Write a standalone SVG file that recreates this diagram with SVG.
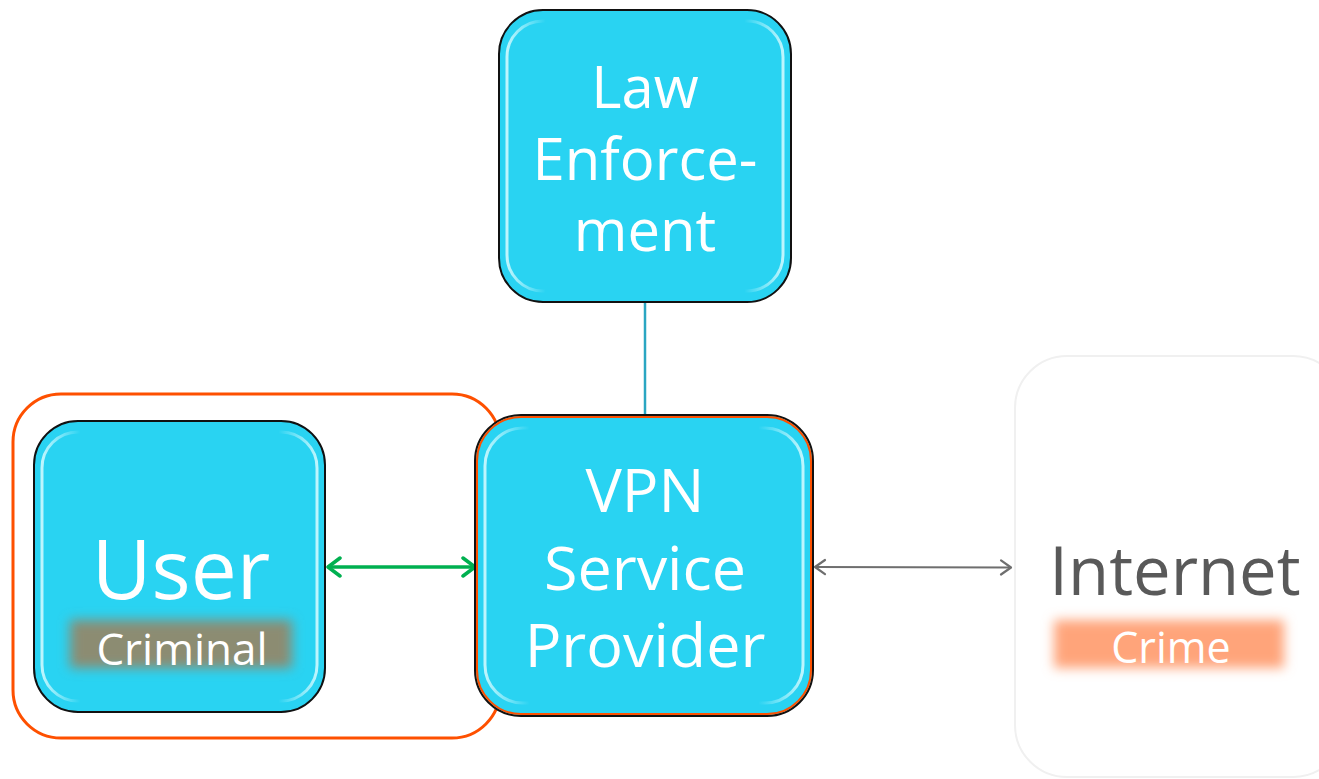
<svg xmlns="http://www.w3.org/2000/svg" width="1319" height="779" viewBox="0 0 1319 779">
  <style>
    .box { fill: #29d3f2; stroke: #111; stroke-width: 2; }
    .gloss { fill: none; stroke: url(#sideGlow); stroke-width: 3; }
    .lbl { font-family: "Open Sans", "Noto Sans", sans-serif; fill: #fff; text-anchor: middle; }
  </style>
  <defs>
    <linearGradient id="sideGlow" x1="0" y1="0" x2="1" y2="0">
      <stop offset="0" stop-color="#d8fbff" stop-opacity="0.85"/>
      <stop offset="0.08" stop-color="#d8fbff" stop-opacity="0.4"/>
      <stop offset="0.14" stop-color="#d8fbff" stop-opacity="0"/>
      <stop offset="0.86" stop-color="#d8fbff" stop-opacity="0"/>
      <stop offset="0.92" stop-color="#d8fbff" stop-opacity="0.4"/>
      <stop offset="1" stop-color="#d8fbff" stop-opacity="0.85"/>
    </linearGradient>
    <filter id="soft" x="-20%" y="-60%" width="140%" height="220%">
      <feGaussianBlur stdDeviation="6"/>
    </filter>
    <marker id="greenHead" viewBox="-16 -12 18 24" markerWidth="18" markerHeight="24" refX="0" refY="0" orient="auto-start-reverse" markerUnits="userSpaceOnUse">
      <path d="M-12,-9 L0,0 L-12,9" fill="none" stroke="#00b050" stroke-width="3.5" stroke-linecap="round" stroke-linejoin="round"/>
    </marker>
    <marker id="greyHead" viewBox="-14 -10 16 20" markerWidth="16" markerHeight="20" refX="0" refY="0" orient="auto-start-reverse" markerUnits="userSpaceOnUse">
      <path d="M-10,-7 L0,0 L-10,7" fill="none" stroke="#6e6e6e" stroke-width="2.2" stroke-linecap="round" stroke-linejoin="round"/>
    </marker>
  </defs>

  <rect width="1319" height="779" fill="#fff"/>

  <!-- containers -->
  <g id="criminal-zone">
    <rect x="13" y="394" width="487" height="344" rx="48" fill="none" stroke="#fe5000" stroke-width="3"/>
  </g>
  <g id="internet">
    <rect x="1015" y="356" width="330" height="421" rx="52" fill="#fff" stroke="#f0f0f0" stroke-width="2"/>
    <rect x="1054" y="620" width="230" height="48" fill="#ffa47a" filter="url(#soft)"/>
    <text class="lbl" x="1175" y="595" font-size="67" style="fill:#595959">Internet</text>
    <text class="lbl" x="1171" y="663" font-size="43">Crime</text>
  </g>

  <!-- connectors -->
  <g id="connectors">
    <line x1="645" y1="302" x2="645" y2="415" stroke="#2aa6c2" stroke-width="2.5"/>
    <line x1="328" y1="567" x2="475" y2="567" stroke="#00b050" stroke-width="3.5" marker-start="url(#greenHead)" marker-end="url(#greenHead)"/>
    <line x1="815" y1="567" x2="1011" y2="567.5" stroke="#6e6e6e" stroke-width="2" marker-start="url(#greyHead)" marker-end="url(#greyHead)"/>
  </g>

  <g id="user">
    <rect class="box" x="34" y="421" width="291" height="291" rx="44"/>
    <rect class="gloss" x="42" y="432" width="275" height="269" rx="36"/>
    <rect x="70" y="620" width="222" height="48" fill="#8c8c72" filter="url(#soft)"/>
    <text class="lbl" x="181" y="599" font-size="82">User</text>
    <text class="lbl" x="182" y="665" font-size="44">Criminal</text>
  </g>

  <g id="vpn">
    <rect class="box" x="475" y="415" width="338" height="301" rx="46" stroke-width="3"/>
    <rect x="477" y="417" width="334" height="297" rx="44" fill="none" stroke="#fe5000" stroke-width="2"/>
    <rect class="gloss" x="485" y="428" width="318" height="275" rx="38"/>
    <text class="lbl" x="645" y="512" font-size="61">VPN</text>
    <text class="lbl" x="645" y="590" font-size="61">Service</text>
    <text class="lbl" x="645" y="667" font-size="61">Provider</text>
  </g>

  <g id="law">
    <rect class="box" x="499" y="10" width="292" height="292" rx="44"/>
    <rect class="gloss" x="507" y="21" width="276" height="270" rx="36"/>
    <text class="lbl" x="645" y="108" font-size="58">Law</text>
    <text class="lbl" x="645" y="180" font-size="58">Enforce-</text>
    <text class="lbl" x="645" y="251" font-size="58">ment</text>
  </g>
</svg>
